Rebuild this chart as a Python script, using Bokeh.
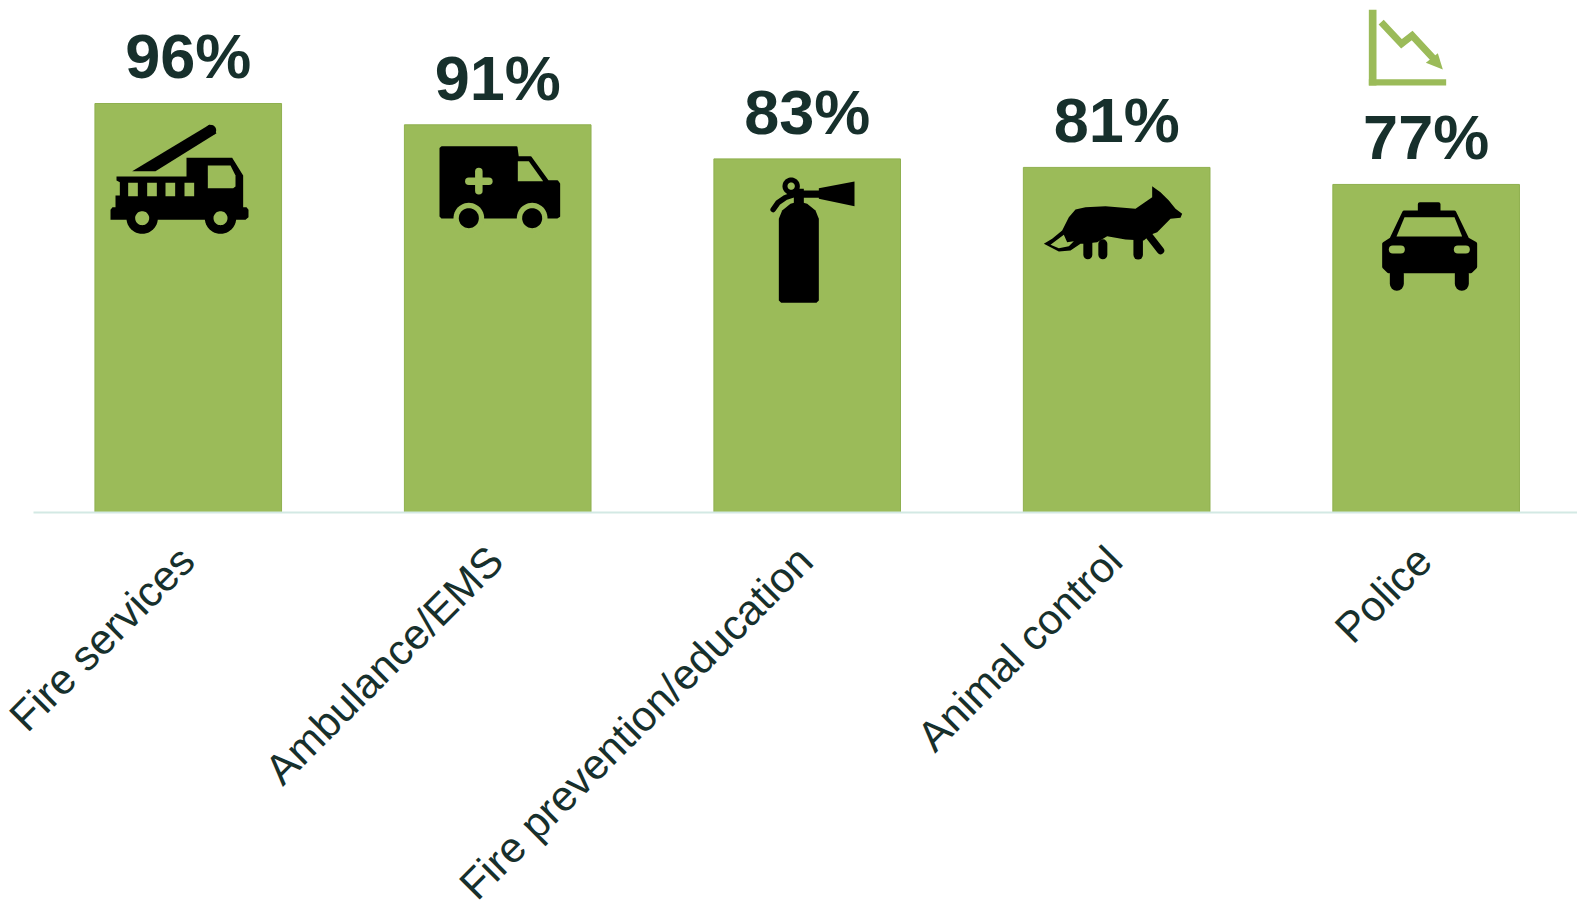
from bokeh.plotting import figure
from bokeh.models import Range1d, ColumnDataSource, FixedTicker
from bokeh.core.properties import value
from bokeh.embed import file_html
from bokeh.resources import INLINE
import math

categories = ["Fire services", "Ambulance/EMS", "Fire prevention/education", "Animal control", "Police"]
values = [96, 91, 83, 81, 77]
labels = ["96%", "91%", "83%", "81%", "77%"]

GREEN = "#9BBB59"
EDGE = "#8FB04F"
INK = "#17302C"
BLACK = "#000000"
X_END = 4.989
LABEL_GAP = 11.07
TICK_NUDGE = 0.0065

positions = [i + 0.5 for i in range(len(categories))]
tick_positions = [x - TICK_NUDGE for x in positions]

p = figure(width=1577, height=902, output_backend="svg", toolbar_location=None,
           x_range=Range1d(0, X_END),
           y_range=Range1d(0, 118.3), tools="",
           min_border_left=33, min_border_right=0, min_border_top=8, min_border_bottom=390)
p.frame_width = 1544
p.frame_height = 504
p.outline_line_color = None
p.background_fill_color = "white"
p.grid.visible = False
p.yaxis.visible = False
ax = p.xaxis[0]
ax.ticker = FixedTicker(ticks=tick_positions)
ax.major_label_overrides = dict(zip(tick_positions, categories))
ax.axis_line_color = "#D3E9E4"
ax.axis_line_width = 2
ax.major_tick_line_color = None
ax.minor_tick_line_color = None
ax.major_label_orientation = math.pi / 4
ax.major_label_text_font = "Liberation Sans"
ax.major_label_text_font_size = "42.4px"
ax.major_label_text_color = INK
ax.major_label_standoff = 35

src = ColumnDataSource(dict(x=positions, top=values, label=labels,
                            label_y=[v + LABEL_GAP for v in values]))
p.vbar(x="x", top="top", bottom=0, width=0.603, source=src,
       fill_color=GREEN, line_color=EDGE, line_width=1)
p.text(x="x", y="label_y", text="label", source=src, text_align="center", text_baseline="alphabetic",
       text_font=value("Liberation Sans"), text_font_style="bold",
       text_font_size="63px", text_color=INK)


# Decorative pictograms: outlines are given in pixels and mapped onto the chart's ranges
def X(px):
    return (px - 33) / 1544 * X_END


def Y(py):
    return (512 - py) / 504 * 118.3


def poly(org, pts, color=BLACK, rounding=0):
    ox, oy = org
    xs = [X(ox + a / 3) for a, _ in pts]
    ys = [Y(oy + b / 3) for _, b in pts]
    p.patch(xs, ys, fill_color=color, line_color=color if rounding else None,
            line_width=rounding or 1, line_join="round")


def stroke(org, pts, width, color=BLACK, cap="round", join="round"):
    ox, oy = org
    p.line([X(ox + a / 3) for a, _ in pts], [Y(oy + b / 3) for _, b in pts], line_width=width,
           line_color=color, line_cap=cap, line_join=join)


def disc(org, cx, cy, r, color=BLACK):
    n = 48
    pts = [(cx + r * math.cos(2 * math.pi * i / n), cy + r * math.sin(2 * math.pi * i / n)) for i in range(n)]
    poly(org, pts, color)


def rect(org, x0, y0, x1, y1, color=BLACK, r=0):
    inset = r * 3 / 2 if r else 0
    poly(org, [(x0 + inset, y0 + inset), (x1 - inset, y0 + inset), (x1 - inset, y1 - inset), (x0 + inset, y1 - inset)],
         color, rounding=r)


# fire truck
o = (90, 100)
poly(o, [(125, 212), (358, 72), (378, 98), (195, 212)])
disc(o, 361, 89, 16)
poly(o, [(288, 172), (425, 172), (458, 225), (458, 320), (468, 320), (474, 328), (474, 350), (465, 358),
         (60, 358), (60, 328), (66, 320), (75, 320), (75, 285), (88, 285), (88, 245), (78, 240), (78, 228),
         (288, 228)])
for c in (155, 390):
    disc(o, c, 353, 47)
    disc(o, c, 353, 21, GREEN)
poly(o, [(352, 195), (420, 195), (435, 225), (435, 258), (428, 263), (352, 263)], GREEN)
for x0 in (113, 170, 225, 282):
    rect(o, x0, 247, x0 + 29, 287, GREEN)

# ambulance
o = (400, 120)
poly(o, [(124, 80), (348, 80), (352, 110), (390, 110), (442, 182), (470, 182), (476, 190), (476, 287), (470, 291),
         (124, 291), (120, 287), (120, 84)], rounding=2)
poly(o, [(352, 122), (385, 122), (428, 182), (352, 182)], GREEN)
stroke(o, [(205, 182), (265, 182)], 7.5, GREEN)
stroke(o, [(235, 153), (235, 211)], 7.5, GREEN)
for c in (205, 395):
    disc(o, c, 293, 46, GREEN)
    disc(o, c, 293, 30)

# fire extinguisher
o = (740, 165)
poly(o, [(115, 160), (125, 135), (150, 115), (175, 108), (200, 115), (225, 135), (235, 160), (235, 405),
         (228, 412), (122, 412), (115, 405)])
rect(o, 160, 70, 190, 118)
rect(o, 185, 75, 240, 97)
poly(o, [(235, 68), (342, 48), (342, 122), (235, 100)])
stroke(o, [(98, 132), (112, 112), (135, 96), (165, 86)], 5.5)
disc(o, 152, 62, 26)
disc(o, 152, 62, 11, GREEN)

# fox
o = (1025, 175)
stroke(o, [(187, 190), (187, 238)], 9)
stroke(o, [(232, 205), (232, 238)], 9)
stroke(o, [(338, 190), (338, 238)], 9.5)
stroke(o, [(370, 180), (405, 225)], 7.5)
poly(o, [(380, 32), (405, 50), (430, 75), (450, 100), (470, 115), (465, 127), (435, 130), (415, 150), (395, 170),
         (375, 178), (355, 195), (300, 192), (245, 182), (215, 200), (175, 205), (165, 205), (135, 225),
         (100, 228), (55, 205), (80, 190), (110, 165), (130, 125), (150, 102), (180, 95), (240, 92), (330, 100),
         (380, 65)])
poly(o, [(75, 208), (115, 178), (125, 200), (145, 197), (130, 212), (100, 218)], GREEN)

# falling trend
o = (1350, 0)
rect(o, 55, 28, 78, 255, GREEN)
rect(o, 55, 236, 287, 255, GREEN)
stroke(o, [(92, 65), (153, 130), (185, 105), (250, 175)], 7, GREEN, cap="butt", join="miter")
poly(o, [(262, 158), (277, 207), (226, 187)], GREEN)

# police car
o = (1360, 190)
poly(o, [(178, 62), (178, 41), (234, 41), (234, 62)], rounding=4)
poly(o, [(131, 66), (281, 66), (320, 146), (344, 160), (344, 229), (331, 242), (84, 242), (71, 229), (71, 160),
         (93, 146)], rounding=4)
stroke(o, [(109, 250), (109, 280)], 14)
stroke(o, [(304, 250), (304, 280)], 14)
poly(o, [(132, 80), (282, 80), (305, 138), (108, 138)], GREEN)
stroke(o, [(97, 177), (121, 177)], 8, GREEN)
stroke(o, [(292, 177), (316, 177)], 8, GREEN)

open("out.html", "w").write(file_html(p, INLINE))
